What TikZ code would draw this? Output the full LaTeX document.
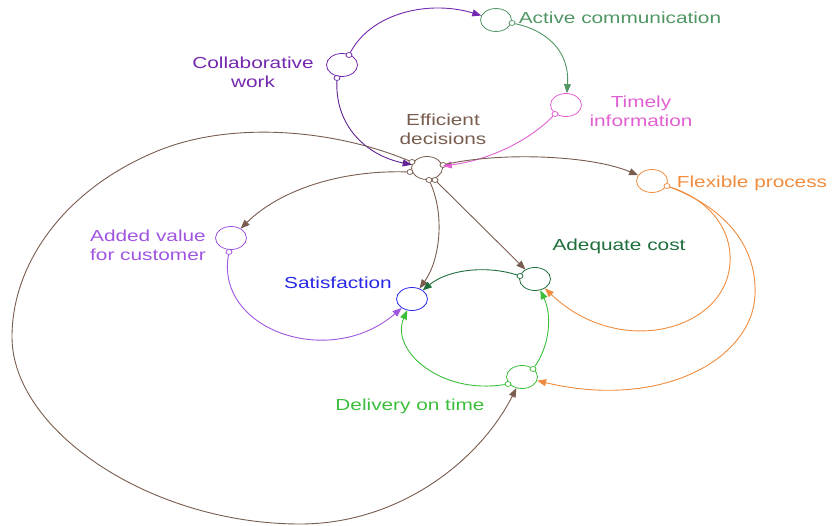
\documentclass[tikz,border=0pt]{standalone}
\usepackage{fontspec}
\setmainfont{Liberation Sans}
\usetikzlibrary{shapes.geometric,arrows.meta}
\definecolor{cwC}{RGB}{115,40,175}
\definecolor{acC}{RGB}{80,150,100}
\definecolor{tiC}{RGB}{225,95,210}
\definecolor{edC}{RGB}{120,92,78}
\definecolor{fpC}{RGB}{240,140,62}
\definecolor{avC}{RGB}{160,85,225}
\definecolor{saC}{RGB}{40,40,230}
\definecolor{adC}{RGB}{30,110,60}
\definecolor{dtC}{RGB}{60,190,60}
\newcommand{\lbl}[1]{\scalebox{1.3}[1]{\begin{tabular}{@{}c@{}}#1\end{tabular}}}
\begin{document}
\begin{tikzpicture}[x=1pt,y=-1pt,
  var/.style={ellipse, draw, minimum width=31pt, minimum height=23pt, inner sep=0pt, line width=0.8pt},
  tail/.style={ellipse, draw, minimum width=6pt, minimum height=5pt, inner sep=0pt, line width=0.7pt, fill=white},
  lnk/.style={line width=0.9pt, -{Triangle[length=9pt,width=7pt]}},
  lab/.style={inner sep=0pt, font=\fontsize{16}{19.5}\selectfont}]
\useasboundingbox (0,0) rectangle (832,526);
% variables
\node[var,draw=cwC] (cw) at (342,65) {};
\node[var,draw=acC] (ac) at (496,20) {};
\node[var,draw=tiC] (ti) at (566,105) {};
\node[var,draw=edC] (ed) at (427,168) {};
\node[var,draw=fpC] (fp) at (652,181) {};
\node[var,draw=avC] (av) at (231,238) {};
\node[var,draw=saC] (sa) at (412,299) {};
\node[var,draw=adC] (ad) at (535,279) {};
\node[var,draw=dtC] (dt) at (522,377) {};
% tails
\node[tail,draw=cwC] (cw1) at (349,55) {};
\node[tail,draw=cwC] (cw2) at (337,78) {};
\node[tail,draw=acC] (ac1) at (512,23) {};
\node[tail,draw=tiC] (ti1) at (555,114) {};
\node[tail,draw=edC] (ed1) at (412,162) {};
\node[tail,draw=edC] (ed2) at (410,172) {};
\node[tail,draw=edC] (ed3) at (443,165) {};
\node[tail,draw=edC] (ed4) at (429,180) {};
\node[tail,draw=edC] (ed5) at (435,180) {};
\node[tail,draw=fpC] (fp1) at (667,186) {};
\node[tail,draw=avC] (av1) at (229,252) {};
\node[tail,draw=adC] (ad1) at (520,276) {};
\node[tail,draw=dtC] (dt1) at (508,384) {};
\node[tail,draw=dtC] (dt2) at (533,369) {};
% links
\draw[lnk,cwC] (cw1) .. controls (372,12) and (430,0) .. (ac);
\draw[lnk,acC] (ac1) .. controls (545,30) and (570,50) .. (ti);
\draw[lnk,tiC] (ti1) .. controls (530,140) and (490,160) .. (ed);
\draw[lnk,cwC!85!black] (cw2) .. controls (335,125) and (365,155) .. (ed);
\draw[lnk,edC] (ed3) .. controls (500,152) and (590,155) .. (fp);
\draw[lnk,edC] (ed2) .. controls (340,170) and (280,190) .. (av);
\draw[lnk,edC] (ed1) .. controls (330,128) and (230,122) .. (160,150)
  .. controls (69,186) and (12,260) .. (12,337)
  .. controls (12,430) and (150,524) .. (300,524)
  .. controls (400,524) and (480,460) .. (dt);
\draw[lnk,edC] (ed4) .. controls (445,215) and (440,260) .. (sa);
\draw[lnk,edC] (ed5) -- (ad);
\draw[lnk,adC] (ad1) .. controls (490,266) and (450,268) .. (sa);
\draw[lnk,dtC] (dt1) .. controls (440,395) and (390,350) .. (sa);
\draw[lnk,avC] (av1) .. controls (215,330) and (330,370) .. (sa);
\draw[lnk,dtC] (dt2) .. controls (550,345) and (552,315) .. (ad);
\draw[lnk,fpC] (fp1) .. controls (710,200) and (732,230) .. (730,262)
  .. controls (727,330) and (620,360) .. (ad);
\draw[lnk,fpC] (fp1) .. controls (730,210) and (757,250) .. (755,295)
  .. controls (752,360) and (660,410) .. (dt);
% labels
\node[lab,text=cwC] (cwL) at (253,74) {\lbl{Collaborative\\work}};
\node[lab,text=acC] (acL) at (620,20) {\lbl{Active communication}};
\node[lab,text=tiC] (tiL) at (641,113) {\lbl{Timely\\information}};
\node[lab,text=edC] (edL) at (443,131) {\lbl{Efficient\\decisions}};
\node[lab,text=fpC] (fpL) at (752,184) {\lbl{Flexible process}};
\node[lab,text=avC] (avL) at (148,247) {\lbl{Added value\\for customer}};
\node[lab,text=saC] (saL) at (338,285) {\lbl{Satisfaction}};
\node[lab,text=adC] (adL) at (619,247) {\lbl{Adequate cost}};
\node[lab,text=dtC] (dtL) at (410,407) {\lbl{Delivery on time}};
\end{tikzpicture}
\end{document}
